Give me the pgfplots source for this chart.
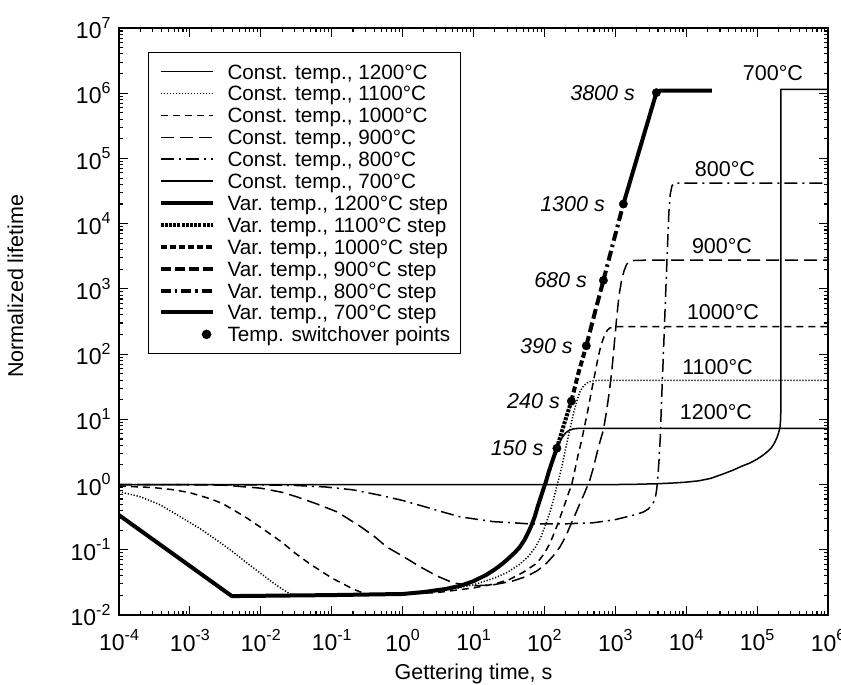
\documentclass[border=0pt]{standalone}
\usepackage{fontspec}
\setmainfont{Liberation Sans}
\usepackage{pgfplots}
\pgfplotsset{compat=1.18}

% power-of-ten tick label set in the text font
\newcommand\tp[1]{10\raisebox{0.45em}{\fontsize{16}{16}\selectfont #1}}

\tikzset{
  thinline/.style={line width=1.5pt, black, line join=round},
  thickline/.style={line width=4pt, black, line join=round},
}

\begin{document}
\begin{tikzpicture}
\useasboundingbox (-119pt,-70pt) rectangle (722pt,615pt);
\begin{axis}[
  at={(0pt,0pt)}, anchor=south west,
  scale only axis, width=709pt, height=587pt,
  xmode=log, ymode=log,
  xmin=1e-4, xmax=1e6, ymin=1e-2, ymax=1e7,
  xtickten={-4,...,6},
  ytickten={-2,...,7},
  xticklabels={\tp{-4},\tp{-3},\tp{-2},\tp{-1},\tp{0},\tp{1},\tp{2},\tp{3},\tp{4},\tp{5},\tp{6}},
  yticklabels={\tp{-2},\tp{-1},\tp{0},\tp{1},\tp{2},\tp{3},\tp{4},\tp{5},\tp{6},\tp{7}},
  tick align=inside,
  major tick length=9pt, minor tick length=4.5pt,
  every tick/.style={black, line width=1.1pt},
  axis line style={line width=1.6pt},
  tick label style={font=\fontsize{23}{23}\selectfont},
  xticklabel style={yshift=-11pt},
  yticklabel style={xshift=-5pt},
  xlabel={Gettering time, s},
  ylabel={Normalized lifetime},
  label style={font=\fontsize{21.5}{22}\selectfont},
  xlabel style={at={(rel axis cs:0.5,-0.101)}, anchor=center},
  ylabel style={at={(rel axis cs:-0.146,0.56)}, anchor=center},
  legend cell align=left,
  legend style={
    at={(rel axis cs:0.0409,0.959)}, anchor=north west,
    draw=black, line width=1.1pt,
    font=\fontsize{20.7}{21}\selectfont,
    inner xsep=10pt, inner ysep=8pt,
    column sep=13pt, row sep=0pt,
    nodes={inner sep=0pt, text height=18.45pt, text depth=3.45pt},
  },
  legend image code/.code={\draw[#1] (0pt,0pt) -- (52pt,0pt);},
]

% ---- constant temperature anneals ----
\addplot[thinline] coordinates {
  (1e-4,0.34) (3.9e-3,0.0195) (0.01,0.0197) (0.1,0.0202) (1,0.021)
  (2,0.0225) (4,0.025) (6.5,0.028) (10,0.033) (15,0.041) (20,0.05)
  (25,0.06) (30,0.071) (38,0.09) (45,0.11) (52,0.14) (60,0.19) (66,0.24)
  (73,0.32) (80,0.45) (88,0.62) (96,0.83) (105,1.1) (115,1.55) (126,2.1)
  (138,2.8) (150,3.6) (160,4.2) (172,4.9) (185,5.6) (200,6.2) (220,6.7)
  (250,7.1) (290,7.25) (350,7.3) (1e6,7.3)};
\addlegendentry{Const. temp., 1200°C}

\addplot[thinline, dash pattern=on 1.2pt off 1.8pt] coordinates {
  (1e-4,0.78) (2e-4,0.65) (3.8e-4,0.49) (7e-4,0.33) (1.4e-3,0.21)
  (2.4e-3,0.14) (3.7e-3,0.1) (6e-3,0.066) (9.8e-3,0.044) (0.015,0.031)
  (0.02,0.025) (0.026,0.021) (0.04,0.0199) (0.1,0.0201) (1,0.021)
  (3,0.023) (6,0.026) (10,0.029) (20,0.037) (30,0.045) (45,0.06) (60,0.08)
  (75,0.11) (90,0.16) (105,0.25) (120,0.38) (135,0.6) (150,0.95) (165,1.4)
  (180,2.1) (200,3.6) (225,6.5) (255,12) (290,20) (320,27) (360,33)
  (420,37.5) (500,39.3) (600,39.5) (1e6,39.5)};
\addlegendentry{Const. temp., 1100°C}

\addplot[thinline, dash pattern=on 7pt off 5pt] coordinates {
  (1e-4,0.95) (3e-4,0.9) (6e-4,0.83) (1e-3,0.75) (2e-3,0.6) (3e-3,0.5)
  (6e-3,0.32) (1e-2,0.22) (0.02,0.13) (0.03,0.09) (0.05,0.06) (0.1,0.037)
  (0.2,0.025) (0.3,0.021) (0.5,0.0205) (1,0.021) (3,0.022) (10,0.026)
  (20,0.03) (32,0.035) (50,0.045) (78,0.062) (100,0.088) (120,0.126)
  (140,0.19) (157,0.26) (180,0.4) (200,0.55) (220,0.75) (243,1.0)
  (270,1.7) (300,2.9) (336,4.8) (370,8) (400,12) (430,18) (464,28)
  (500,42) (540,65) (605,116) (660,160) (720,205) (780,235) (840,252)
  (950,262) (1100,264) (1e6,264)};
\addlegendentry{Const. temp., 1000°C}

\addplot[thinline, dash pattern=on 13pt off 6pt] coordinates {
  (1e-4,1.0) (1e-3,0.995) (3e-3,0.98) (0.01,0.88) (0.02,0.76) (0.032,0.65)
  (0.06,0.51) (0.12,0.38) (0.25,0.23) (0.4,0.16) (0.6,0.11) (1,0.08)
  (1.76,0.055) (3,0.04) (5.2,0.031) (10,0.028) (19,0.029) (35,0.033)
  (56,0.039) (80,0.048) (107,0.062) (135,0.082) (165,0.11) (200,0.16)
  (230,0.23) (270,0.34) (316,0.51) (370,0.75) (437,1.17) (490,1.8)
  (550,3.0) (610,4.6) (680,6.9) (750,13) (830,28) (900,60) (960,130)
  (1050,376) (1130,800) (1230,1380) (1330,1900) (1450,2400) (1600,2620)
  (1800,2720) (2500,2750) (1e6,2750)};
\addlegendentry{Const. temp., 900°C}

\addplot[thinline, dash pattern=on 13pt off 5pt on 2pt off 5pt] coordinates {
  (1e-4,1.0) (0.01,0.99) (0.03,0.97) (0.08,0.92) (0.2,0.83) (0.5,0.68)
  (1,0.57) (2.5,0.43) (4,0.37) (6.5,0.32) (12,0.29) (19,0.27) (35,0.26)
  (60,0.25) (200,0.25) (500,0.26) (1000,0.29) (1450,0.32) (2000,0.35)
  (2500,0.38) (2900,0.42) (3200,0.47) (3450,0.53) (3650,0.62) (3800,0.78)
  (3900,1.0) (4000,1.4) (4150,2.5) (4300,5) (4500,20) (4800,120)
  (5100,700) (5400,3500) (5700,1.5e4) (5950,2.8e4) (6300,3.8e4)
  (6800,4.15e4) (7500,4.2e4) (1e6,4.2e4)};
\addlegendentry{Const. temp., 800°C}

\addplot[thinline] coordinates {
  (1e-4,1.0) (1000,1.0) (2000,1.01) (4000,1.03) (7000,1.06) (1e4,1.09)
  (1.5e4,1.14) (2.2e4,1.24) (3.3e4,1.45) (4.5e4,1.65) (6e4,1.9)
  (8e4,2.15) (1e5,2.45) (1.2e5,2.8) (1.4e5,3.2) (1.6e5,3.7) (1.75e5,4.3)
  (1.9e5,5.2) (2.0e5,6.1) (2.1e5,7.5) (2.15e5,10) (2.17e5,20)
  (2.17e5,1.15e6) (1e6,1.15e6)};
\addlegendentry{Const. temp., 700°C}

% ---- stepped temperature anneal ----
\addplot[thickline] coordinates {
  (1e-4,0.34) (3.9e-3,0.0195) (0.01,0.0197) (0.1,0.0202) (1,0.021)
  (2,0.0225) (4,0.025) (6.5,0.028) (10,0.033) (15,0.041) (20,0.05)
  (25,0.06) (30,0.071) (38,0.09) (45,0.11) (52,0.14) (60,0.19) (66,0.24)
  (73,0.32) (80,0.45) (88,0.62) (96,0.83) (105,1.1) (115,1.55) (126,2.1)
  (138,2.8) (150,3.6)};
\addlegendentry{Var. temp., 1200°C step}

\addplot[thickline, dash pattern=on 3pt off 1.2pt] coordinates {
  (150,3.6) (190,8.5) (240,19)};
\addlegendentry{Var. temp., 1100°C step}

\addplot[thickline, dash pattern=on 6pt off 3pt] coordinates {
  (240,19) (300,50) (390,134)};
\addlegendentry{Var. temp., 1000°C step}

\addplot[thickline, dash pattern=on 10pt off 4pt] coordinates {
  (390,134) (520,450) (680,1350)};
\addlegendentry{Var. temp., 900°C step}

\addplot[thickline, dash pattern=on 10pt off 4pt on 2.5pt off 4pt] coordinates {
  (680,1350) (950,5500) (1300,2e4)};
\addlegendentry{Var. temp., 800°C step}

\addplot[thickline] coordinates {
  (1300,2e4) (3800,1.02e6) (4300,1.1e6) (2.3e4,1.1e6)};
\addlegendentry{Var. temp., 700°C step}

\addplot[only marks, mark=*, mark size=4.2pt, black,
  legend image code/.code={\path[draw=none] (0pt,0pt) -- (52pt,0pt); \fill[black] (46pt,0pt) circle (4.2pt);}]
  coordinates {(150,3.6) (240,19) (390,134) (680,1350) (1300,2e4) (3800,1.02e6)};
\addlegendentry{Temp. switchover points}

% switchover times
\begin{scope}[font=\fontsize{21.5}{22}\selectfont\itshape]
\node[anchor=east] at ([xshift=-10pt]axis cs:150,3.6) {150 s};
\node[anchor=east] at ([xshift=-8pt]axis cs:240,19) {240 s};
\node[anchor=east] at ([xshift=-10pt]axis cs:390,134) {390 s};
\node[anchor=east] at ([xshift=-13pt]axis cs:680,1350) {680 s};
\node[anchor=east] at ([xshift=-15pt]axis cs:1300,2e4) {1300 s};
\node[anchor=east] at ([xshift=-18pt]axis cs:3800,1.02e6) {3800 s};
\end{scope}

% plateau temperatures
\begin{scope}[font=\fontsize{21.5}{22}\selectfont]
\node at (rel axis cs:0.9224,0.9225) {700°C};
\node at (rel axis cs:0.8547,0.7589) {800°C};
\node at (rel axis cs:0.8505,0.6278) {900°C};
\node at (rel axis cs:0.8519,0.5153) {1000°C};
\node at (rel axis cs:0.8441,0.4216) {1100°C};
\node at (rel axis cs:0.8420,0.3450) {1200°C};
\end{scope}
\end{axis}
\end{tikzpicture}
\end{document}
